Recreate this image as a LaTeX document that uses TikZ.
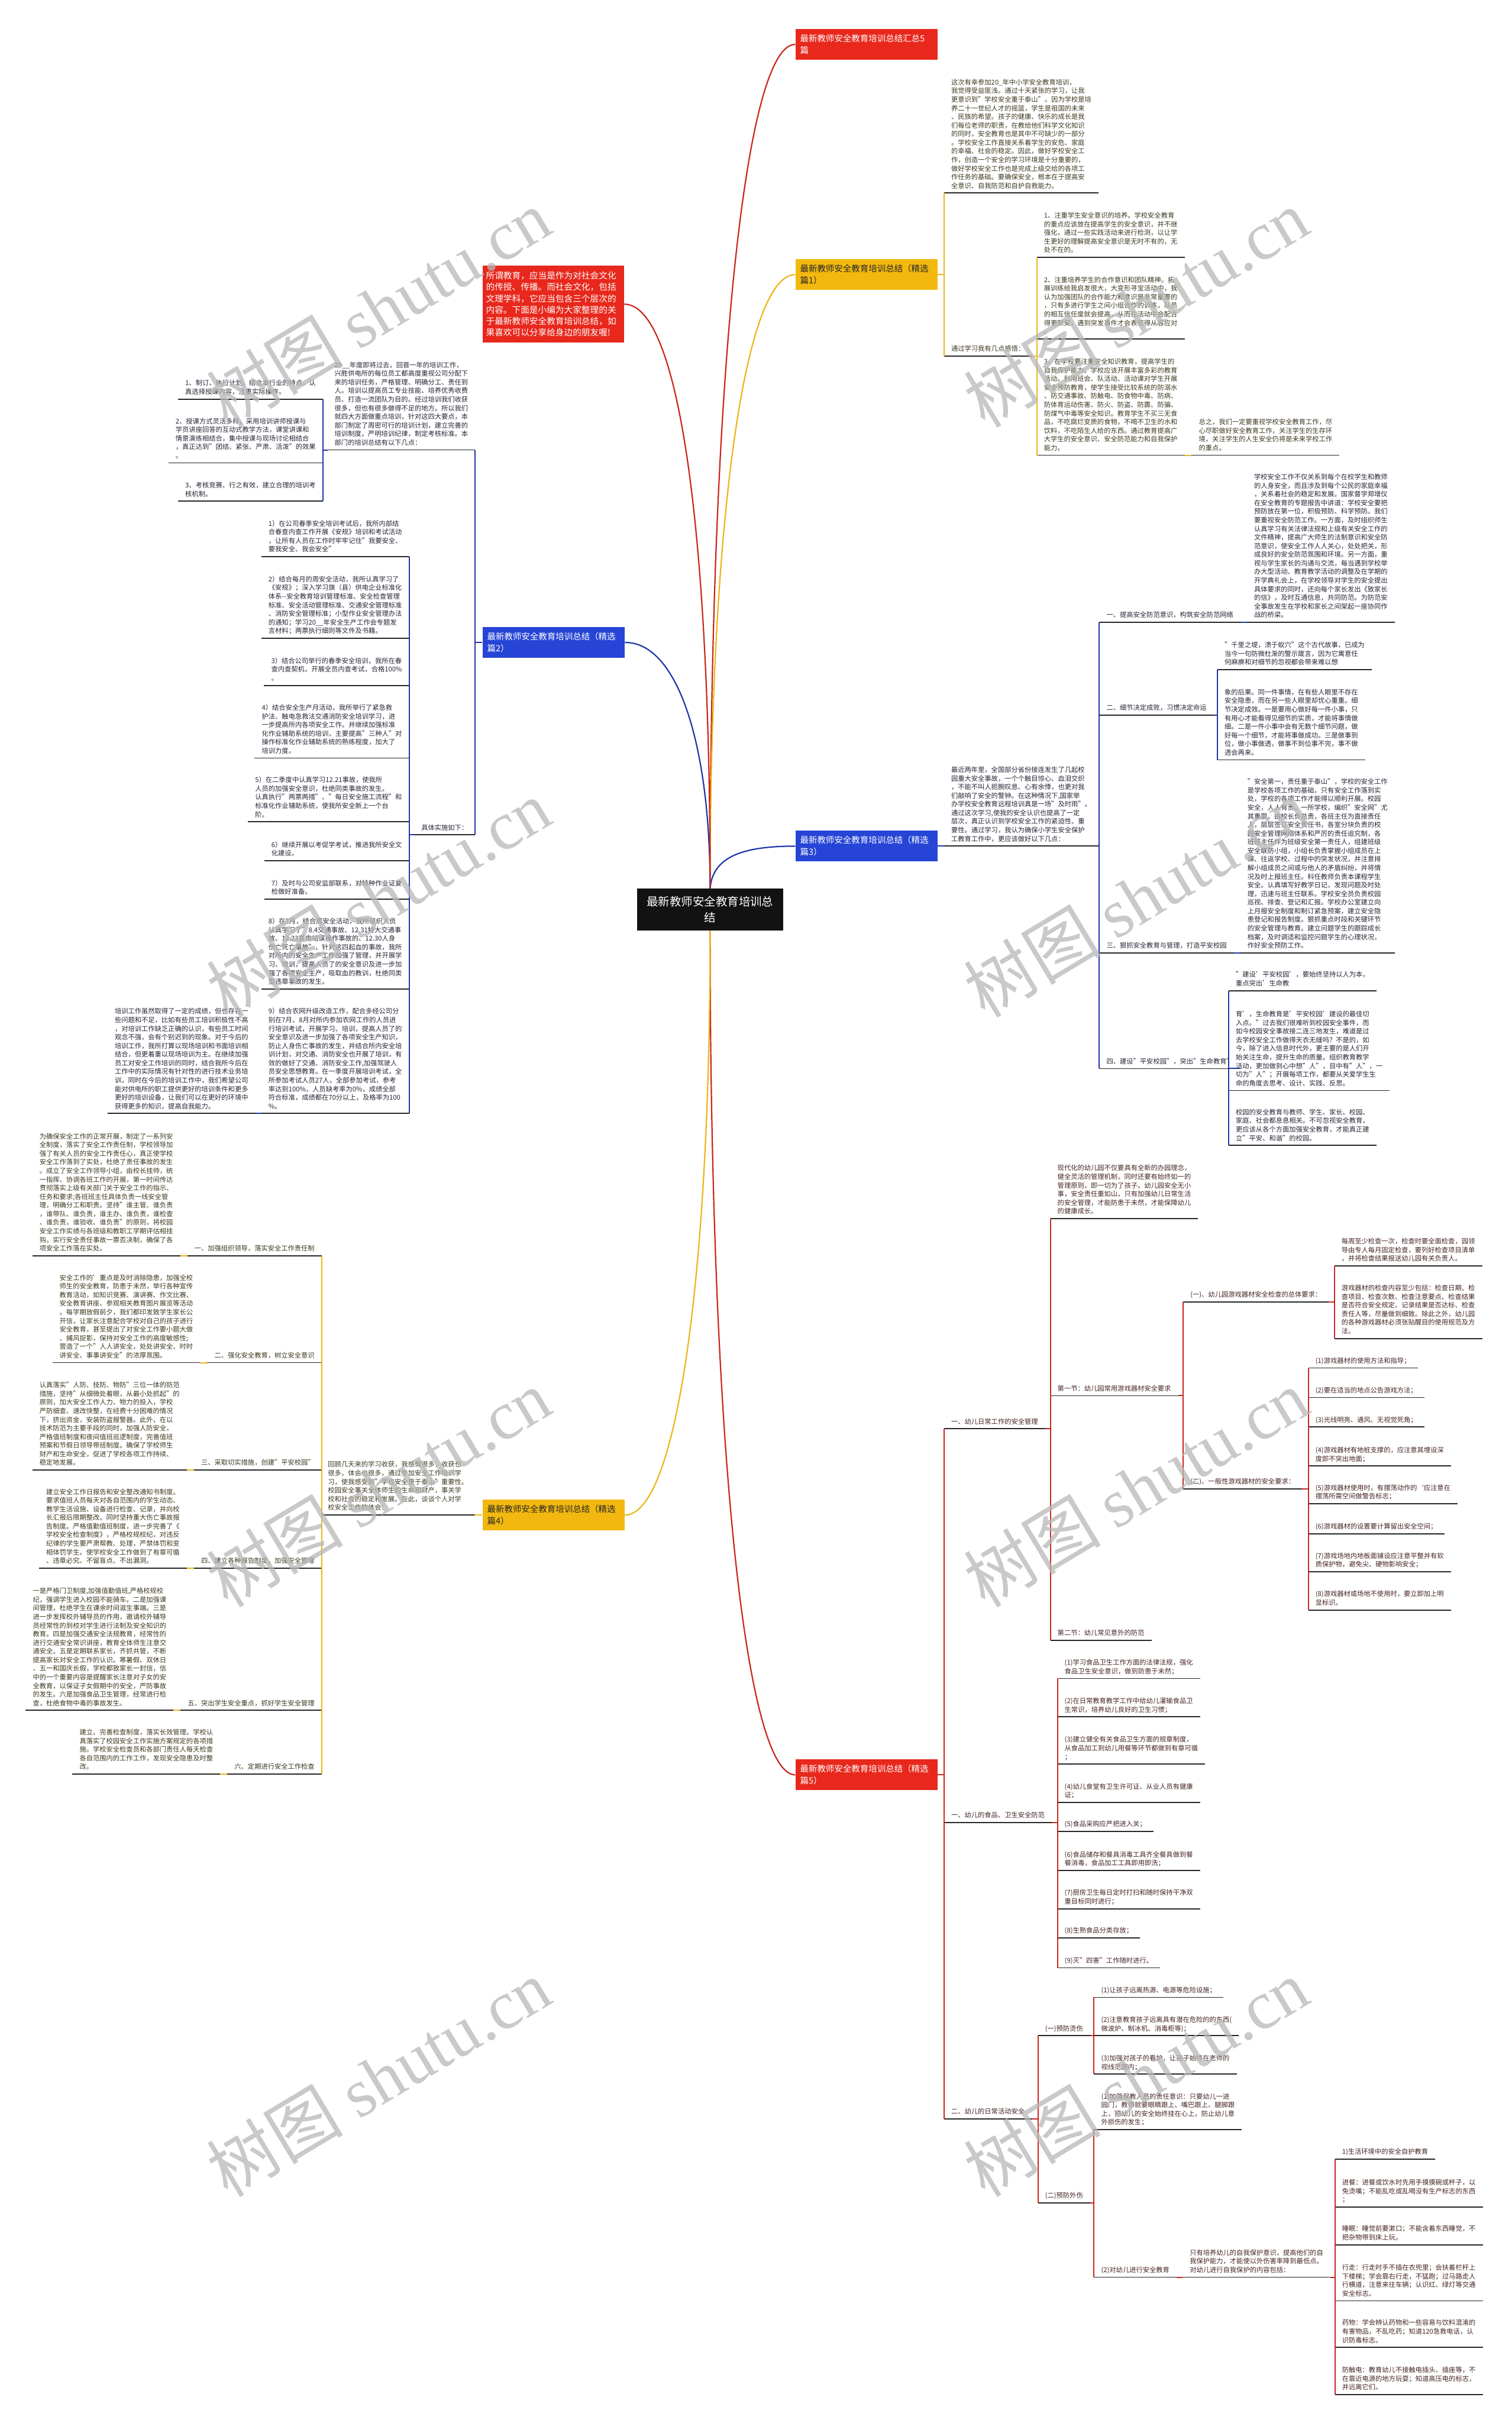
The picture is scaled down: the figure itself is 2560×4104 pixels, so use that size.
\documentclass[tikz,border=0pt]{standalone}
\usepackage{fontspec}
\setmainfont{Noto Sans CJK SC}
\newfontfamily\wmlatin{Liberation Serif}
\definecolor{bred}{HTML}{E8281C}
\definecolor{bblue}{HTML}{2645D6}
\definecolor{byel}{HTML}{F2B80F}
\definecolor{lred}{HTML}{C9261B}
\definecolor{lblue}{HTML}{1E36A6}
\definecolor{lyel}{HTML}{EBB619}
\definecolor{ulc}{HTML}{262626}
\definecolor{tred}{HTML}{472424}
\definecolor{tblue}{HTML}{262636}
\definecolor{tyel}{HTML}{3D381F}
\definecolor{wmc}{HTML}{B8B8B8}
\newcommand\leaffont{\fontsize{11.3pt}{14.6pt}\selectfont}
\newcommand\boxfont{\fontsize{14.5pt}{20pt}\selectfont}
\newcommand\ustrut{\rule[-8pt]{0pt}{8pt}}
\begin{document}
\begin{tikzpicture}[x=1pt,y=-1pt,
 lr/.style={anchor=south west, inner xsep=12pt, inner ysep=0pt, align=left, font=\leaffont, execute at end node=\ustrut},
 ll/.style={lr, anchor=south east},
 rR/.style={lr, text=tred}, rB/.style={lr, text=tblue}, rY/.style={lr, text=tyel},
 lB/.style={ll, text=tblue}, lY/.style={ll, text=tyel},
 ul/.style={draw=ulc, line width=1.8pt},
 cR/.style={draw=lred, line width=2pt}, cB/.style={draw=lblue, line width=2pt}, cY/.style={draw=lyel, line width=2pt},
 mbox/.style={anchor=north west, minimum width=241pt, minimum height=52pt, inner xsep=8pt, inner ysep=3pt, text width=225pt, align=left, font=\boxfont},
 wm/.style={text=wmc, opacity=0.75, font=\fontsize{116pt}{120pt}\selectfont, rotate=31, inner sep=0pt}
]
\fill[white] (0,0) rectangle (2560,4104);
\useasboundingbox (0,0) rectangle (2560,4104);

% ---------- centre and main boxes ----------
\node[anchor=north west, fill=black!93, text=white, minimum width=247pt, minimum height=71pt, text width=231pt, align=center, inner sep=0pt, font=\fontsize{19.5pt}{26.7pt}\selectfont] (C) at (1079,1505) {最新教师安全教育培训总\\结};
\node[mbox, fill=bred, text=white] (B0) at (1347,49) {最新教师安全教育培训总结汇总5\\篇};
\node[mbox, fill=byel, text=ulc] (B1) at (1347,439) {最新教师安全教育培训总结（精选\\篇1）};
\node[mbox, fill=bblue, text=white] (B3) at (1347,1407) {最新教师安全教育培训总结（精选\\篇3）};
\node[mbox, fill=bred, text=white] (B5) at (1347,2980) {最新教师安全教育培训总结（精选\\篇5）};
\node[mbox, fill=bblue, text=white] (B2) at (817,1062) {最新教师安全教育培训总结（精选\\篇2）};
\node[mbox, fill=byel, text=ulc] (B4) at (817,2540) {最新教师安全教育培训总结（精选\\篇4）};
\node[anchor=north west, fill=bred, text=white, minimum width=240pt, minimum height=130pt, inner xsep=6pt, text width=228pt, align=left, font=\fontsize{14.7pt}{19.3pt}\selectfont] (IN) at (817,450) {所谓教育，应当是作为对社会文化\\的传授、传播。而社会文化，包括\\文理学科，它应当包含三个层次的\\内容。下面是小编为大家整理的关\\于最新教师安全教育培训总结，如\\果喜欢可以分享给身边的朋友喔!};

% ---------- 篇1 ----------
\node[rY] (p1a) at (1599,327) {这次有幸参加20\_年中小学安全教育培训，\\我觉得受益匪浅。通过十天紧张的学习，让我\\更意识到"学校安全重于泰山"。因为学校是培\\养二十一世纪人才的摇篮，学生是祖国的未来\\、民族的希望。孩子的健康、快乐的成长是我\\们每位老师的职责，在教给他们科学文化知识\\的同时，安全教育也是其中不可缺少的一部分\\。学校安全工作直接关系着学生的安危、家庭\\的幸福、社会的稳定。因此，做好学校安全工\\作，创造一个安全的学习环境是十分重要的，\\做好学校安全工作也是完成上级交给的各项工\\作任务的基础。要确保安全，根本在于提高安\\全意识、自我防范和自护自救能力。};
\node[rY] (p1b) at (1599,603) {通过学习我有几点感悟：};
\node[rY] (p1c) at (1756,436) {1、注重学生安全意识的培养。学校安全教育\\的重点应该放在提高学生的安全意识，并不继\\强化，通过一些实践活动来进行检测，以让学\\生更好的理解提高安全意识是无时不有的，无\\处不在的。};
\node[rY] (p1d) at (1756,574) {2、注重培养学生的合作意识和团队精神。拓\\展训练给我启发很大，大变形寻宝活动中，我\\认为加强团队的合作能力和意识是非常重要的\\，只有多进行学生之间小组合作的训练，队员\\的相互信任度就会提高，从而在活动中会配合\\得更默契，遇到突发事件才会表现得从容应对\\。};
\node[rY] (p1e) at (1756,771) {3、在学校要注重安全知识教育，提高学生的\\自我保护能力。学校应该开展丰富多彩的教育\\活动。利用班会、队活动、活动课对学生开展\\安全预防教育，使学生接受比较系统的防溺水\\、防交通事故、防触电、防食物中毒、防病、\\防体育运动伤害、防火、防盗、防震、防骗、\\防煤气中毒等安全知识。教育学生不买三无食\\品，不吃腐烂变质的食物，不喝不卫生的水和\\饮料，不吃陌生人给的东西。通过教育提高广\\大学生的安全意识、安全防范能力和自我保护\\能力。};
\node[rY] (p1f) at ([xshift=12pt]p1e.south east) {总之，我们一定要重视学校安全教育工作，尽\\心尽职做好安全教育工作，关注学生的生存环\\境，关注学生的人生安全仍将是未来学校工作\\的重点。};

% ---------- 篇3 ----------
\node[rB] (p3a) at (1599,1433) {最近两年里，全国部分省份接连发生了几起校\\园重大安全事故，一个个触目惊心、血泪交织\\，不能不叫人扼腕叹息、心有余悸，也更对我\\们敲响了安全的警钟。在这种情况下,国家举\\办学校安全教育远程培训真是一场"及时雨"。\\通过这次学习,使我的安全认识也提高了一定\\层次，真正认识到学校安全工作的紧迫性、重\\要性。通过学习，我认为确保小学生安全保护\\工教育工作中，更应该做好以下几点：};
\node[rB] (s31) at (1862,1054) {一、提高安全防范意识，构筑安全防范网络};
\node[rB] (p31) at ([xshift=11pt]s31.south east) {学校安全工作不仅关系到每个在校学生和教师\\的人身安全，而且涉及到每个公民的家庭幸福\\，关系着社会的稳定和发展。国家督学郑增仪\\在安全教育的专题报告中讲道：学校安全要把\\预防放在第一位，积极预防、科学预防。我们\\要重视安全防范工作。一方面，及时组织师生\\认真学习有关法律法规和上级有关安全工作的\\文件精神，提高广大师生的法制意识和安全防\\范意识，使安全工作人人关心，处处把关，形\\成良好的安全防范氛围和环境。另一方面，重\\视与学生家长的沟通与交流，每当遇到学校举\\办大型活动、教育教学活动的调整及在学期的\\开学典礼会上，在学校领导对学生的安全提出\\具体要求的同时，还向每个家长发出《致家长\\的信》，及时互通信息，共同防范。为防范安\\全事故发生在学校和家长之间架起一座协同作\\战的桥梁。};
\node[rB] (s32) at (1862,1211) {二、细节决定成败，习惯决定命运};
\node[rB] (p32a) at (2062,1134) {"千里之堤，溃于蚁穴"这个古代故事，已成为\\当今一句防微杜渐的警示箴言，因为它寓意任\\何麻痹和对细节的忽视都会带来难以想};
\node[rB] (p32b) at (2062,1287) {象的后果。同一件事情，在有些人眼里不存在\\安全隐患，而在另一些人眼里却忧心重重。细\\节决定成效。一是要用心做好每一件小事，只\\有用心才能看得见细节的实质，才能将事情做\\细。二是一件小事中会有无数个细节问题，做\\好每一个细节，才能将事做成功。三是做事到\\位，做小事做透，做事不到位事不完，事不做\\透会再来。};
\node[rB] (s33) at (1862,1614) {三、狠抓安全教育与管理，打造平安校园};
\node[rB] (p33) at ([xshift=11pt]s33.south east) {"安全第一，责任重于泰山"，学校的安全工作\\是学校各项工作的基础，只有安全工作落到实\\处，学校的各项工作才能得以顺利开展。校园\\安全，人人有责。一所学校，编织"安全网"尤\\其重要。由校长负总责，各班主任为直接责任\\人，层层签订安全责任书，各室分块负责的校\\园安全管理网络体系和严厉的责任追究制，各\\班班主任作为班级安全第一责任人，组建班级\\安全联防小组，小组长负责掌握小组成员在上\\课、往返学校、过程中的突发状况，并注意排\\解小组成员之间或与他人的矛盾纠纷，并将情\\况及时上报班主任。科任教师负责本课程学生\\安全。认真填写好教学日记，发现问题及时处\\理，迅速与班主任联系。学校安全员负责校园\\巡视、排查、登记和汇报。学校办公室建立向\\上月报安全制度和制订紧急预案，建立安全隐\\患登记和报告制度。狠抓重点时段和关键环节\\的安全管理与教育。建立问题学生的跟踪成长\\档案，及时调适和监控问题学生的心理状况，\\作好安全预防工作。};
\node[rB] (s34) at (1862,1810) {四、建设"平安校园"，突出"生命教育"};
\node[rB] (p34a) at (2081,1678) {"建设'平安校园'，要始终坚持以人为本，\\重点突出'生命教};
\node[rB] (p34b) at (2081,1847) {育'，生命教育是'平安校园'建设的最佳切\\入点。"过去我们很难听到校园安全事件，而\\如今校园安全事故接二连三地发生，难道是过\\去学校安全工作做得天衣无缝吗？不是的，如\\今，除了进入信息时代外，更主要的是人们开\\始关注生命，提升生命的质量。组织教育教学\\活动，更加做到心中想"人"，目中有"人"，一\\切为"人"；开展每项工作，都要从关爱学生生\\命的角度去思考、设计、实践、反思。};
\node[rB] (p34c) at (2081,1940) {校园的安全教育与教师、学生、家长、校园、\\家庭、社会都息息相关。不可忽视安全教育，\\更应该从各个方面加强安全教育，才能真正建\\立"平安、和谐"的校园。};

% ---------- 篇5 ----------
\node[rR] (s51) at (1599,2420) {一、幼儿日常工作的安全管理};
\node[rR] (p51a) at (1779,2064) {现代化的幼儿园不仅要具有全新的办园理念，\\健全灵活的管理机制，同时还要有始终如一的\\管理原则，即一切为了孩子。幼儿园安全无小\\事，安全责任重如山，只有加强幼儿日常生活\\的安全管理，才能防患于未然，才能保障幼儿\\的健康成长。};
\node[rR] (s51b) at (1779,2364) {第一节：幼儿园常用游戏器材安全要求};
\node[rR] (s51c) at (2004,2205) {(一)、幼儿园游戏器材安全检查的总体要求：};
\node[rR] (p51d) at (2260,2144) {每周至少检查一次，检查时要全面检查，园领\\导由专人每月固定检查，要列好检查项目清单\\，并将检查结果报送幼儿园有关负责人。};
\node[rR] (p51e) at (2260,2267) {游戏器材的检查内容至少包括：检查日期、检\\查项目、检查次数、检查注意要点、检查结果\\是否符合安全规定、记录结果是否达标、检查\\责任人等，尽量做到细致。除此之外，幼儿园\\的各种游戏器材必须张贴醒目的使用规范及方\\法。};
\node[rR] (s51f) at (2004,2522) {(二)、一般性游戏器材的安全要求：};
\node[rR] (g1) at (2216,2317) {(1)游戏器材的使用方法和指导；};
\node[rR] (g2) at (2216,2367) {(2)要在适当的地点公告游戏方法；};
\node[rR] (g3) at (2216,2417) {(3)光线明亮、通风、无视觉死角；};
\node[rR] (g4) at (2216,2483) {(4)游戏器材有地桩支撑的，应注意其埋设深\\度即不突出地面；};
\node[rR] (g5) at (2216,2547) {(5)游戏器材使用时，有摆荡动作的`应注意在\\摆荡所需空间做警告标志；};
\node[rR] (g6) at (2216,2598) {(6)游戏器材的设置要计算留出安全空间；};
\node[rR] (g7) at (2216,2662) {(7)游戏场地内地板面铺设应注意平整并有软\\质保护物，避免尖、硬物影响安全；};
\node[rR] (g8) at (2216,2727) {(8)游戏器材或场地不使用时，要立即加上明\\显标识。};
\node[rR] (s51g) at (1779,2778) {第二节：幼儿常见意外的防范};
\node[rR] (s52) at (1599,3087) {一、幼儿的食品、卫生安全防范};
\node[rR] (f1) at (1791,2843) {(1)学习食品卫生工作方面的法律法规，强化\\食品卫生安全意识，做到防患于未然；};
\node[rR] (f2) at (1791,2908) {(2)在日常教育教学工作中给幼儿灌输食品卫\\生常识，培养幼儿良好的卫生习惯；};
\node[rR] (f3) at (1791,2988) {(3)建立健全有关食品卫生方面的规章制度，\\从食品加工到幼儿用餐等环节都做到有章可循\\；};
\node[rR] (f4) at (1791,3053) {(4)幼儿食堂有卫生许可证、从业人员有健康\\证；};
\node[rR] (f5) at (1791,3102) {(5)食品采购应严把进入关；};
\node[rR] (f6) at (1791,3168) {(6)食品储存和餐具消毒工具齐全餐具做到餐\\餐消毒，食品加工工具即用即洗；};
\node[rR] (f7) at (1791,3233) {(7)厨房卫生每日定时打扫和随时保持干净双\\重目标同时进行；};
\node[rR] (f8) at (1791,3282) {(8)生熟食品分类存放；};
\node[rR] (f9) at (1791,3333) {(9)灭"四害"工作随时进行。};
\node[rR] (s53) at (1599,3589) {二、幼儿的日常活动安全};
\node[rR] (s53a) at (1758,3448) {(一)预防烫伤};
\node[rR] (h1) at (1853,3383) {(1)让孩子远离热源、电源等危险设施；};
\node[rR] (h2) at (1853,3448) {(2)注意教育孩子远离具有潜在危险的的东西(\\微波炉、制冰机、消毒柜等)；};
\node[rR] (h3) at (1853,3513) {(3)加强对孩子的看护，让孩子始终在老师的\\视线范围内；};
\node[rR] (s53b) at (1758,3731) {(二)预防外伤};
\node[rR] (w1) at (1853,3607) {(1)加强保教人员的责任意识：只要幼儿一进\\园门，教师就要眼睛跟上、嘴巴跟上、腿脚跟\\上，把幼儿的安全始终挂在心上，防止幼儿意\\外损伤的发生；};
\node[rR] (w2) at (1853,3857) {(2)对幼儿进行安全教育};
\node[rR] (w3) at (2003,3857) {只有培养幼儿的自我保护意识，提高他们的自\\我保护能力，才能使以外伤害率降到最低点。\\对幼儿进行自我保护的内容包括：};
\node[rR] (k1) at (2261,3657) {1)生活环境中的安全自护教育};
\node[rR] (k2) at (2261,3738) {进餐：进餐或饮水时先用手摸摸碗或杯子，以\\免烫嘴；不能乱吃或乱喝没有生产标志的东西\\；};
\node[rR] (k3) at (2261,3802) {睡眠：睡觉前要漱口；不能含着东西睡觉，不\\把杂物带到床上玩。};
\node[rR] (k4) at (2261,3897) {行走：行走时手不插在衣兜里；会扶着栏杆上\\下楼梯；学会靠右行走，不猛跑；过马路走人\\行横道，注意来往车辆；认识红、绿灯等交通\\安全标志。};
\node[rR] (k5) at (2261,3976) {药物：学会辨认药物和一些容易与饮料混淆的\\有害物品，不乱吃药；知道120急救电话，认\\识防毒标志。};
\node[rR] (k6) at (2261,4056) {防触电：教育幼儿不接触电插头、插座等，不\\在靠近电源的地方玩耍；知道高压电的标志，\\并远离它们。};

% ---------- 篇2 ----------
\node[lB] (p2a) at (805,762) {20\_\_年度即将过去，回首一年的培训工作，\\兴胜供电所的每位员工都高度重视公司分配下\\来的培训任务，严格管理、明确分工、责任到\\人。培训以提高员工专业技能、培养优秀收费\\员、打造一流团队为目的。经过培训我们收获\\很多，但也有很多做得不足的地方。所以我们\\就四大方面做重点培训，针对这四大要点，本\\部门制定了周密可行的培训计划，建立完善的\\培训制度，严明培训纪律，制定考核标准。本\\部门的培训总结有以下几点：};
\node[lB] (p2b) at (547,676) {1、制订、执行计划。结合本行业的特点，认\\真选择授课内容，注重实际操作。};
\node[lB] (p2c) at (547,784) {2、授课方式灵活多样，采用培训讲师授课与\\学员讲座回答的互动式教学方法，课堂讲课和\\情景演练相结合，集中授课与现场讨论相结合\\，真正达到"团结、紧张、严肃、活泼"的效果\\。};
\node[lB] (p2d) at (547,849) {3、考核竞赛、行之有效，建立合理的培训考\\核机制。};
\node[lB] (p2e) at (805,1414) {具体实施如下：};
\node[lB] (i1) at (693,943) {1）在公司春季安全培训考试后，我所内部结\\合春查内查工作开展《安规》培训和考试活动\\，让所有人员在工作时牢牢记住"我要安全、\\要我安全、我会安全"};
\node[lB] (i2) at (693,1081) {2）结合每月的周安全活动，我所认真学习了\\《安规》；深入学习旗（县）供电企业标准化\\体系-{}-安全教育培训管理标准、安全检查管理\\标准、安全活动管理标准、交通安全管理标准\\、消防安全管理标准；小型作业安全管理办法\\的通知；学习20\_\_年安全生产工作会专题发\\言材料；两票执行细则等文件及书籍。};
\node[lB] (i3) at (693,1161) {3）结合公司举行的春季安全培训，我所在春\\查内查契机，开展全员内查考试，合格100\%\\。};
\node[lB] (i4) at (693,1284) {4）结合安全生产月活动，我所举行了紧急救\\护法、触电急救法交通消防安全培训学习，进\\一步提高所内各项安全工作。并继续加强标准\\化作业辅助系统的培训，主要提高"三种人"对\\操作标准化作业辅助系统的熟练程度，加大了\\培训力度。};
\node[lB] (i5) at (693,1392) {5）在二季度中认真学习12.21事故，使我所\\人员的加强安全意识，杜绝同类事故的发生。\\认真执行"两票两措"、"每日安全施工流程"和\\标准化作业辅助系统，使我所安全新上一个台\\阶。};
\node[lB] (i6) at (693,1458) {6）继续开展以考促学考试，推进我所安全文\\化建设。};
\node[lB] (i7) at (693,1523) {7）及时与公司安监部联系，对特种作业证复\\检做好准备。};
\node[lB] (i8) at (693,1675) {8）在7月，结合周安全活动，我所组织人员\\认真学习了"8.4交通事故、12.31特大交通事\\故、12.23变电站误操作事故的、12.30人身\\伤亡死亡事故"，针对这四起血的事故，我所\\对所内的安全生产工作加强了管理，并开展学\\习、培训，提高人员了的安全意识及进一步加\\强了各项安全生产，吸取血的教训，杜绝同类\\型违章事故的发生。};
\node[lB] (i9) at (693,1886) {9）结合农网升级改造工作，配合多经公司分\\别在7月、8月对所内参加农网工作的人员进\\行培训考试，开展学习、培训，提高人员了的\\安全意识及进一步加强了各项安全生产知识，\\防止人身伤亡事故的发生，并结合所内安全培\\训计划，对交通、消防安全也开展了培训，有\\效的做好了交通、消防安全工作,加强驾驶人\\员安全思想教育。在一季度开展培训考试，全\\所参加考试人员27人，全部参加考试，参考\\率达到100\%，人员缺考率为0\%，成绩全部\\符合标准，成绩都在70分以上，及格率为100\\\%。};
\node[lB] (p2f) at ([xshift=-10pt]i9.south west) {培训工作虽然取得了一定的成绩，但也存在一\\些问题和不足，比如有些员工培训积极性不高\\，对培训工作缺乏正确的认识，有些员工时间\\观念不强，会有个别迟到的现象。对于今后的\\培训工作，我所打算以现场培训和书面培训相\\结合，但更着重以现场培训为主。在继续加强\\员工对安全工作培训的同时，结合我所今后在\\工作中的实际情况有针对性的进行技术业务培\\训，同时在今后的培训工作中，我们希望公司\\能对供电所的职工提供更好的培训条件和更多\\更好的培训设备，让我们可以在更好的环境中\\获得更多的知识，提高自我能力。};

% ---------- 篇4 ----------
\node[lY] (p4a) at (805,2566) {回顾几天来的学习收获，我感慨很多，收获也\\很多，体会也很多，通过参加安全工作培训学\\习，使我感受到"学校安全重于泰山"重要性。\\校园安全事关全体师生的生命和财产，事关学\\校和社会的稳定和发展。在此，谈谈个人对学\\校安全工作的体会：};
\node[lY] (s41) at (545,2127) {一、加强组织领导，落实安全工作责任制};
\node[lY] (p41) at ([xshift=-12pt]s41.south west) {为确保安全工作的正常开展，制定了一系列安\\全制度，落实了安全工作责任制，学校领导加\\强了有关人员的安全工作责任心，真正使学校\\安全工作落到了实处，杜绝了责任事故的发生\\。成立了安全工作领导小组，由校长挂帅，统\\一指挥、协调各班工作的开展，第一时间传达\\贯彻落实上级有关部门关于安全工作的指示、\\任务和要求;各班班主任具体负责一线安全管\\理，明确分工和职责。坚持"谁主管、谁负责\\，谁带队、谁负责，谁主办、谁负责，谁检查\\、谁负责，谁验收、谁负责"的原则，将校园\\安全工作实绩与各班级和教职工学期评估相挂\\钩，实行安全责任事故一票否决制，确保了各\\项安全工作落在实处。};
\node[lY] (s42) at (545,2308) {二、强化安全教育，树立安全意识};
\node[lY] (p42) at ([xshift=-12pt]s42.south west) {安全工作的'重点是及时消除隐患，加强全校\\师生的安全教育，防患于未然，举行各种宣传\\教育活动，如知识竞赛、演讲赛、作文比赛、\\安全教育讲座、参观相关教育图片展览等活动\\。每学期放假前夕，我们都印发致学生家长公\\开信，让家长注意配合学校对自己的孩子进行\\安全教育，甚至提出了对安全工作要小题大做\\、捕风捉影，保持对安全工作的高度敏感性;\\营造了一个"人人讲安全，处处讲安全、时时\\讲安全、事事讲安全"的浓厚氛围。};
\node[lY] (s43) at (545,2490) {三、采取切实措施，创建"平安校园"};
\node[lY] (p43) at ([xshift=-12pt]s43.south west) {认真落实"人防、技防、物防"三位一体的防范\\措施，坚持"从细微处着眼，从最小处抓起"的\\原则，加大安全工作人力、物力的投入，学校\\严防细查、速改快整，在经费十分困难的情况\\下，挤出资金，安装防盗报警器。此外，在以\\技术防范为主要手段的同时，加强人防安全，\\严格值班制度和夜间值班巡逻制度，完善值班\\预案和节假日领导带班制度。确保了学校师生\\财产和生命安全，促进了学校各项工作持续、\\稳定地发展。};
\node[lY] (s44) at (545,2656) {四、建立各种报告制度，加强安全管理};
\node[lY] (p44) at ([xshift=-12pt]s44.south west) {建立安全工作日报告和安全整改通知书制度。\\要求值班人员每天对各自范围内的学生动态、\\教学生活设施、设备进行检查、记录，并向校\\长汇报后限期整改。同时坚持重大伤亡事故报\\告制度。严格值勤值班制度，进一步完善了《\\学校安全检查制度》，严格校规校纪，对违反\\纪律的学生要严肃帮教、处理，严禁体罚和变\\相体罚学生。使学校安全工作做到了有章可循\\、违章必究、不留盲点、不出漏洞。};
\node[lY] (s45) at (545,2897) {五、突出学生安全重点，抓好学生安全管理};
\node[lY] (p45) at ([xshift=-12pt]s45.south west) {一是严格门卫制度,加强值勤值班,严格校规校\\纪，强调学生进入校园不能骑车。二是加强课\\间管理，杜绝学生在课余时间滋生事端。三是\\进一步发挥校外辅导员的作用，邀请校外辅导\\员经常性的到校对学生进行法制及安全知识的\\教育。四是加强交通安全法规教育，经常性的\\进行交通安全常识讲座，教育全体师生注意交\\通安全。五是定期联系家长，齐抓共管，不断\\提高家长对安全工作的认识。寒暑假、双休日\\、五一和国庆长假，学校都致家长一封信，信\\中的一个重要内容是提醒家长注意对子女的安\\全教育，以保证子女假期中的安全，严防事故\\的发生。六是加强食品卫生管理，经常进行检\\查，杜绝食物中毒的事故发生。};
\node[lY] (s46) at (545,3005) {六、定期进行安全工作检查};
\node[lY] (p46) at ([xshift=-12pt]s46.south west) {建立、完善检查制度，落实长效管理。学校认\\真落实了校园安全工作实施方案规定的各项措\\施。学校安全检查员和各部门责任人每天检查\\各自范围内的工作工作，发现安全隐患及时整\\改。};

% ---------- underlines ----------
\foreach \n in {p1a,p1b,p1c,p1d,p1e,p1f,p3a,s31,p31,s32,p32a,p32b,s33,p33,s34,p34a,p34b,p34c,
 s51,p51a,s51b,s51c,p51d,p51e,s51f,g1,g2,g3,g4,g5,g6,g7,g8,s51g,s52,f1,f2,f3,f4,f5,f6,f7,f8,f9,
 s53,s53a,h1,h2,h3,s53b,w1,w2,w3,k1,k2,k3,k4,k5,k6,
 p2a,p2b,p2c,p2d,p2e,i1,i2,i3,i4,i5,i6,i7,i8,i9,p2f,
 p4a,s41,p41,s42,p42,s43,p43,s44,p44,s45,p45,s46,p46}
 \draw[ul] (\n.south west) -- (\n.south east);

% ---------- connectors ----------
\draw[cR, line width=2.2pt] (C.north) .. controls (1203,647) and (1261,75) .. (B0.west);
\draw[cY, line width=2.2pt] (C.north) .. controls (1203,881) and (1261,465) .. (B1.west);
\draw[cB, line width=2.2pt] (C.north) .. controls (1207,1455) and (1250,1433) .. (B3.west);
\draw[cR, line width=2.2pt] (C.south) .. controls (1203,2434) and (1261,3006) .. (B5.west);
\draw[cB, line width=2.2pt] (C.north) .. controls (1203,1254) and (1145,1087) .. (B2.east);
\draw[cY, line width=2.2pt] (C.south) .. controls (1203,2170) and (1145,2566) .. (B4.east);
\draw[cR, line width=2.2pt] (IN.east) .. controls (1150,515) and (1203,900) .. (C.north);

\foreach \c in {p1a,p1b} \draw[cY] (B1.east) -| (\c.south west);
\foreach \c in {p1c,p1d,p1e} \draw[cY] (p1b.south east) -| (\c.south west);
\draw[cY] (p1e.south east) -- (p1f.south west);

\draw[cB] (B3.east) -| (p3a.south west);
\foreach \c in {s31,s32,s33,s34} \draw[cB] (p3a.south east) -| (\c.south west);
\draw[cB] (s31.south east) -- (p31.south west);
\foreach \c in {p32a,p32b} \draw[cB] (s32.south east) -| (\c.south west);
\draw[cB] (s33.south east) -- (p33.south west);
\foreach \c in {p34a,p34b,p34c} \draw[cB] (s34.south east) -| (\c.south west);

\foreach \c in {s51,s52,s53} \draw[cR] (B5.east) -| (\c.south west);
\foreach \c in {p51a,s51b,s51g} \draw[cR] (s51.south east) -| (\c.south west);
\foreach \c in {s51c,s51f} \draw[cR] (s51b.south east) -| (\c.south west);
\foreach \c in {p51d,p51e} \draw[cR] (s51c.south east) -| (\c.south west);
\foreach \c in {g1,g2,g3,g4,g5,g6,g7,g8} \draw[cR] (s51f.south east) -| (\c.south west);
\foreach \c in {f1,f2,f3,f4,f5,f6,f7,f8,f9} \draw[cR] (s52.south east) -| (\c.south west);
\foreach \c in {s53a,s53b} \draw[cR] (s53.south east) -| (\c.south west);
\foreach \c in {h1,h2,h3} \draw[cR] (s53a.south east) -| (\c.south west);
\foreach \c in {w1,w2} \draw[cR] (s53b.south east) -| (\c.south west);
\draw[cR] (w2.south east) -- (w3.south west);
\foreach \c in {k1,k2,k3,k4,k5,k6} \draw[cR] (w3.south east) -| (\c.south west);

\foreach \c in {p2a,p2e} \draw[cB] (B2.west) -| (\c.south east);
\foreach \c in {p2b,p2c,p2d} \draw[cB] (p2a.south west) -| (\c.south east);
\foreach \c in {i1,i2,i3,i4,i5,i6,i7,i8,i9} \draw[cB] (p2e.south west) -| (\c.south east);
\draw[cB] (i9.south west) -- (p2f.south east);

\draw[cY] (B4.west) -| (p4a.south east);
\foreach \c in {s41,s42,s43,s44,s45,s46} \draw[cY] (p4a.south west) -| (\c.south east);
\foreach \a/\b in {s41/p41,s42/p42,s43/p43,s44/p44,s45/p45,s46/p46} \draw[cY] (\a.south west) -- (\b.south east);

% ---------- watermarks ----------
\foreach \i/\x/\y in {1/641/522,2/1924/522,3/641/1521,4/1924/1521,5/641/2520,6/1924/2520,7/641/3519,8/1924/3519}
 \node[wm] (wm\i) at (\x,\y) {树图 {\wmlatin shutu.cn}};
\end{tikzpicture}
\end{document}
